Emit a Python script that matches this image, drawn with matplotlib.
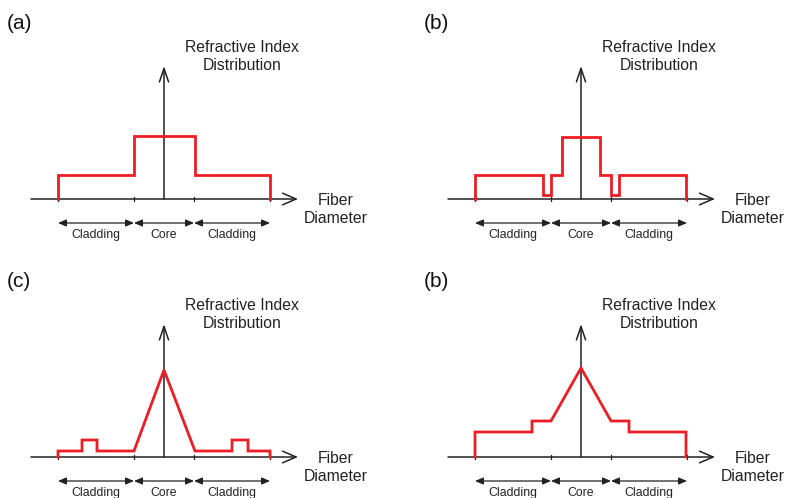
import matplotlib
matplotlib.use("Agg")
import matplotlib.pyplot as plt

plt.rcParams['font.family'] = ['Liberation Sans', 'DejaVu Sans']

# panel letters, as in the source figure
panel_labels = ['(a)', '(b)', '(c)', '(b)']

# refractive index profiles: x = position across the fiber, y = index level
# (a) step index
prof_a_x = [-106, -106, -30, -30, 31, 31, 106, 106]
prof_a_y = [0, 24, 24, 63, 63, 24, 24, 0]
# (b) step index with depressed rings
prof_b_x = [-106, -106, -38, -38, -30, -30, -19, -19, 19, 19, 30, 30, 38, 38, 105, 105]
prof_b_y = [0, 24, 24, 4, 4, 24, 24, 62, 62, 24, 24, 4, 4, 24, 24, 0]
# (c) triangular core with raised rings
prof_c_x = [-106, -106, -82, -82, -67, -67, -30, 0, 31, 68, 68, 84, 84, 106, 106]
prof_c_y = [0, 6, 6, 17, 17, 6, 6, 87, 6, 6, 17, 17, 6, 6, 0]
# (d) triangular core on a pedestal
prof_d_x = [-106, -106, -49, -49, -30, 0, 30, 48, 48, 105, 105]
prof_d_y = [0, 25, 25, 36, 36, 89, 36, 36, 25, 25, 0]

profiles = [(prof_a_x, prof_a_y), (prof_b_x, prof_b_y),
            (prof_c_x, prof_c_y), (prof_d_x, prof_d_y)]

# region boundaries on the diameter axis and their names
bounds = [-106, -30, 30, 106]
region_names = ['Cladding', 'Core', 'Cladding']

W, H = 786, 498
fig = plt.figure(figsize=(W / 100, H / 100), dpi=100)

# pixel layout of each panel: left, top, width, height, centre x, baseline y
layout = [(0, 0, 393, 249, 164, 199),
          (393, 0, 393, 249, 581, 199),
          (0, 249, 393, 249, 164, 457),
          (393, 249, 393, 249, 581, 457)]

red = '#ee1c25'
ink = '#222222'

for i in range(4):
    left, top, w, h, cx, base = layout[i]
    ax = fig.add_axes([left / W, (H - top - h) / H, w / W, h / H])
    ax.set_xlim(left - cx, left + w - cx)
    ax.set_ylim(base - (top + h), base - top)
    ax.axis('off')

    # axes with open arrow heads
    ax.annotate('', xy=(134, 0), xytext=(-133, 0),
                arrowprops=dict(arrowstyle='->,head_length=0.65,head_width=0.28',
                                mutation_scale=15, lw=1.1, color=ink,
                                shrinkA=0, shrinkB=0))
    ax.annotate('', xy=(0, 133), xytext=(0, 0),
                arrowprops=dict(arrowstyle='->,head_length=0.65,head_width=0.22',
                                mutation_scale=15, lw=1.1, color=ink,
                                shrinkA=0, shrinkB=0))

    # small ticks at region boundaries
    for b in bounds:
        ax.plot([b, b], [-2, 2], color=ink, lw=0.9, zorder=2)

    # the profile
    px, py = profiles[i]
    ax.plot(px, py, color=red, lw=2.0, solid_joinstyle='miter', zorder=3)

    # dimension arrows and region names
    for j in range(3):
        ax.annotate('', xy=(bounds[j + 1], -24), xytext=(bounds[j], -24),
                    arrowprops=dict(arrowstyle='<|-|>,head_length=0.7,head_width=0.3',
                                    mutation_scale=7, lw=0.9, color=ink,
                                    shrinkA=0, shrinkB=0))
        ax.text((bounds[j] + bounds[j + 1]) / 2, -36, region_names[j],
                ha='center', va='center', fontsize=8.8, color=ink)

    ax.text(78, 152, 'Refractive Index', ha='center', va='center',
            fontsize=11.3, color=ink)
    ax.text(78, 134, 'Distribution', ha='center', va='center',
            fontsize=11.3, color=ink)
    ax.text(172, -1, 'Fiber', ha='center', va='center', fontsize=11.3, color=ink)
    ax.text(172, -19, 'Diameter', ha='center', va='center', fontsize=11.3, color=ink)

    ax.text(-157, 176, panel_labels[i], ha='left', va='center', fontsize=15,
            color='#111111')

fig.savefig('out.png', dpi=100)
